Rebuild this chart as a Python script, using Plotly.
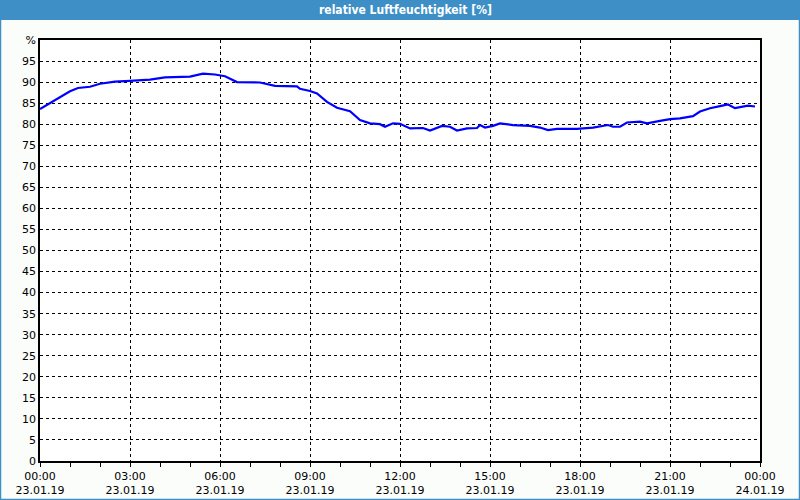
import plotly.graph_objects as go

times = ["00:00","00:20","00:40","01:00","01:16","01:40","02:00","02:30","03:00","03:40",
         "04:10","05:00","05:26","05:50","06:10","06:34","07:20","07:50","08:34","08:40",
         "09:00","09:14","09:34","09:54","10:20","10:40","11:00","11:20","11:30","11:46",
         "12:00","12:20","12:46","13:00","13:24","13:40","13:54","14:14","14:34","14:40",
         "14:50","15:06","15:20","15:46","16:20","16:40","16:56","17:14","17:54","18:26",
         "18:56","19:06","19:20","19:34","20:00","20:14","20:40","21:00","21:20","21:46",
         "22:00","22:20","22:40","22:56","23:10","23:26","23:36","23:50"]
humidity = [83.6,85.0,86.5,87.8,88.6,88.9,89.6,90.1,90.3,90.6,
            91.1,91.3,92.0,91.8,91.4,90.0,89.9,89.1,89.0,88.4,
            87.9,87.3,85.3,83.9,83.1,81.0,80.2,80.0,79.4,80.2,
            80.1,79.0,79.1,78.5,79.6,79.4,78.5,79.0,79.1,79.8,
            79.2,79.6,80.2,79.8,79.6,79.2,78.6,78.9,78.9,79.2,
            79.8,79.4,79.4,80.4,80.6,80.2,80.8,81.2,81.4,81.9,
            83.0,83.8,84.3,84.7,83.8,84.1,84.4,84.2]

x_tick_vals = ["2019-01-23 00:00","2019-01-23 03:00","2019-01-23 06:00","2019-01-23 09:00",
               "2019-01-23 12:00","2019-01-23 15:00","2019-01-23 18:00","2019-01-23 21:00",
               "2019-01-24 00:00"]
x_tick_text = ["00:00<br>23.01.19","03:00<br>23.01.19","06:00<br>23.01.19","09:00<br>23.01.19",
               "12:00<br>23.01.19","15:00<br>23.01.19","18:00<br>23.01.19","21:00<br>23.01.19",
               "00:00<br>24.01.19"]
y_tick_vals = list(range(0, 101, 5))
y_tick_text = [str(v) for v in range(0, 100, 5)] + ["%"]
title = "relative Luftfeuchtigkeit [%]"

x = ["2019-01-23 " + t for t in times]

fig = go.Figure()
fig.add_trace(go.Scatter(x=x, y=humidity, mode="lines",
                         line=dict(color="#0000ff", width=2.2), hoverinfo="skip"))

W, H = 800, 500
L, R, T, B = 40, 40, 40, 39
pw, ph = W - L - R, H - T - B
def px(xp): return (xp - L) / pw
def py(yp): return (H - B - yp) / ph

blue = "#3d8fc6"
fig.add_shape(type="rect", xref="paper", yref="paper", x0=px(0), x1=px(800), y0=py(20), y1=py(0),
              fillcolor=blue, line=dict(width=0), layer="below")
fig.add_shape(type="rect", xref="paper", yref="paper", x0=px(0.5), x1=px(799.5), y0=py(499.5), y1=py(0),
              fillcolor="rgba(0,0,0,0)", line=dict(color=blue, width=1.5))
fig.add_annotation(text="<b>" + title + "</b>", xref="paper", yref="paper", x=px(405), y=py(10),
                   showarrow=False, font=dict(color="white", size=12, family="DejaVu Sans Condensed, DejaVu Sans"),
                   xanchor="center", yanchor="middle")

fig.update_layout(
    width=W, height=H, margin=dict(l=L, r=R, t=T, b=B, autoexpand=False),
    paper_bgcolor="#fbfdfb", plot_bgcolor="white", showlegend=False,
    font=dict(family="DejaVu Sans", size=11, color="black"),
)
fig.update_xaxes(range=["2019-01-23 00:00", "2019-01-24 00:00"], tickvals=x_tick_vals, ticktext=x_tick_text,
                 showgrid=True, gridcolor="black", griddash="3px,3px", gridwidth=1,
                 showline=True, linecolor="black", linewidth=1.5, mirror=True,
                 ticks="outside", ticklen=4, tickcolor="black",
                 minor=dict(dtick=3600000, ticks="outside", ticklen=4, tickcolor="black", showgrid=False),
                 zeroline=False, tickfont=dict(size=11))
fig.update_yaxes(range=[0, 100], tickvals=y_tick_vals, ticktext=y_tick_text,
                 showgrid=True, gridcolor="black", griddash="3px,3px", gridwidth=1,
                 showline=True, linecolor="black", linewidth=1.5, mirror=True,
                 ticks="", zeroline=False, tickfont=dict(size=11))

fig.write_html("out.html")
